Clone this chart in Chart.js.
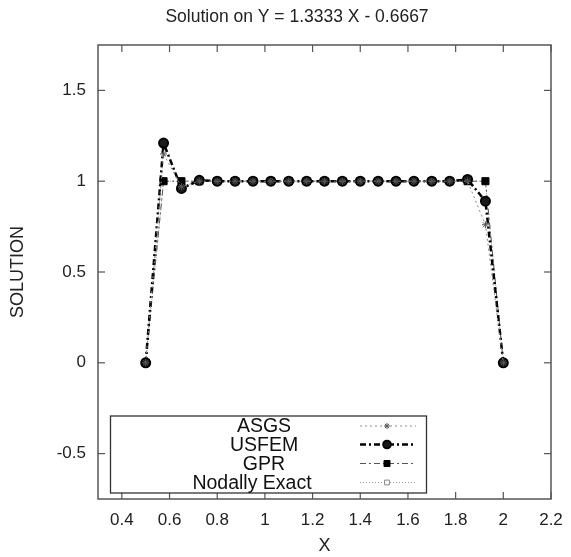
<!DOCTYPE html>
<html>
<head>
<meta charset="utf-8">
<script src="https://cdn.jsdelivr.net/npm/chart.js@4/dist/chart.umd.min.js"></script>
<style>
  html, body { margin: 0; padding: 0; background: #fff; }
  #wrap { width: 571px; height: 557px; }
</style>
</head>
<body>
<div id="wrap"><canvas id="chart"></canvas></div>
<script>
// datos
const xNodes = [0.5, 0.575, 0.65, 0.725, 0.8, 0.875, 0.95, 1.025, 1.1, 1.175, 1.25, 1.325,
                1.4, 1.475, 1.55, 1.625, 1.7, 1.775, 1.85, 1.925, 2.0];
const asgs   = [0, 1.15, 0.97, 1, 1, 1, 1, 1, 1, 1, 1, 1, 1, 1, 1, 1, 1, 1, 1.0, 0.76, 0];
const usfem  = [0, 1.21, 0.96, 1.005, 1, 1, 1, 1, 1, 1, 1, 1, 1, 1, 1, 1, 1, 1, 1.01, 0.89, 0];
const gpr    = [0, 1, 1, 1, 1, 1, 1, 1, 1, 1, 1, 1, 1, 1, 1, 1, 1, 1, 1, 1, 0];
const exact  = [0, 1, 1, 1, 1, 1, 1, 1, 1, 1, 1, 1, 1, 1, 1, 1, 1, 1, 1, 1, 0];
const seriesNames = ['ASGS', 'USFEM', 'GPR', 'Nodally Exact'];
const xTicks = [0.4, 0.6, 0.8, 1.0, 1.2, 1.4, 1.6, 1.8, 2.0, 2.2];
const yTicks = [-0.5, 0, 0.5, 1, 1.5];

const FONT = '"Liberation Sans", Arial, sans-serif';
const toPoints = vals => vals.map((v, i) => ({ x: xNodes[i], y: v }));

const fmt = v => {
    const r = Math.round(v * 10) / 10;
    return Number.isInteger(r) ? String(r) : r.toFixed(1);
};

const datasets = [
    {
        label: seriesNames[0], data: toPoints(asgs),
        borderColor: '#888', borderWidth: 1, borderDash: [2, 3],
        pointStyle: 'star', pointRadius: 3.5, pointBorderColor: '#555', pointBorderWidth: 1,
        pointBackgroundColor: '#555'
    },
    {
        label: seriesNames[1], data: toPoints(usfem),
        borderColor: '#000', borderWidth: 2.5, borderDash: [6, 3, 2, 3],
        pointStyle: 'circle', pointRadius: 4.6, pointBorderColor: '#000', pointBorderWidth: 1.8,
        pointBackgroundColor: '#1a1a1a'
    },
    {
        label: seriesNames[2], data: toPoints(gpr),
        borderColor: '#555', borderWidth: 1, borderDash: [6, 3, 2, 3],
        pointStyle: 'rect', pointRadius: 5, pointBorderColor: '#000', pointBorderWidth: 1,
        pointBackgroundColor: '#000'
    },
    {
        label: seriesNames[3], data: toPoints(exact),
        borderColor: '#999', borderWidth: 1, borderDash: [1, 2],
        pointStyle: 'rect', pointRadius: 4, pointBorderColor: '#888', pointBorderWidth: 1,
        pointBackgroundColor: '#fff'
    }
];

// Marco, marcas interiores, titulo y leyenda al estilo gnuplot
const gnuplotDeco = {
    id: 'gnuplotDeco',
    afterDraw(chart) {
        const { ctx, chartArea: a, scales: { x, y } } = chart;
        ctx.save();
        ctx.strokeStyle = '#555';
        ctx.lineWidth = 1.5;
        ctx.setLineDash([]);
        ctx.strokeRect(a.left, a.top, a.right - a.left, a.bottom - a.top);

        const seg = (x1, y1, x2, y2) => {
            ctx.beginPath(); ctx.moveTo(x1, y1); ctx.lineTo(x2, y2); ctx.stroke();
        };
        ctx.lineWidth = 1.2;
        xTicks.forEach(v => {
            const px = x.getPixelForValue(v);
            seg(px, a.bottom, px, a.bottom - 7);
            seg(px, a.top, px, a.top + 7);
        });
        yTicks.forEach(v => {
            const py = y.getPixelForValue(v);
            seg(a.left, py, a.left + 7, py);
            seg(a.right, py, a.right - 7, py);
        });

        // titulo
        ctx.fillStyle = '#222';
        ctx.font = '17.5px ' + FONT;
        ctx.textAlign = 'center';
        ctx.textBaseline = 'middle';
        ctx.fillText('Solution on Y = 1.3333 X - 0.6667', 297, 17);

        // leyenda
        const bx = a.left + 12.5, by = a.top + 371, bw = 316, bh = 77;
        ctx.fillStyle = '#fff';
        ctx.fillRect(bx, by, bw, bh);
        ctx.strokeStyle = '#333';
        ctx.lineWidth = 1.3;
        ctx.strokeRect(bx, by, bw, bh);

        ctx.font = '19.5px ' + FONT;
        const rows = [426, 444.5, 463.5, 482.5];
        chart.data.datasets.forEach((ds, i) => {
            const ry = rows[i];
            ctx.fillStyle = '#111';
            ctx.textAlign = 'center';
            ctx.fillText(ds.label, i === 3 ? 252 : 264, ry + 1);
            ctx.strokeStyle = ds.borderColor;
            ctx.lineWidth = ds.borderWidth;
            ctx.setLineDash(ds.borderDash);
            seg(360, ry, 416, ry);
            ctx.setLineDash([]);
            ctx.fillStyle = ds.pointBackgroundColor;
            ctx.strokeStyle = ds.pointBorderColor;
            ctx.lineWidth = ds.pointBorderWidth;
            Chart.helpers.drawPoint(ctx, {
                pointStyle: ds.pointStyle, radius: ds.pointRadius * 0.85, rotation: 0,
                borderWidth: ds.pointBorderWidth
            }, 387, ry);
        });
        ctx.restore();
    }
};

new Chart(document.getElementById('chart'), {
    type: 'line',
    data: { datasets: datasets },
    options: {
        responsive: true,
        maintainAspectRatio: false,
        animation: false,
        layout: { padding: { top: 45, right: 20, left: 0, bottom: 0 } },
        plugins: {
            legend: { display: false },
            title: { display: false },
            tooltip: { enabled: false }
        },
        scales: {
            x: {
                type: 'linear', min: 0.3, max: 2.2,
                afterBuildTicks: s => { s.ticks = xTicks.map(v => ({ value: v })); },
                afterFit: s => { s.height = 58; s.paddingLeft = 0; s.paddingRight = 0; },
                grid: { display: false, drawTicks: false },
                border: { display: false },
                ticks: { padding: 11, color: '#222', font: { family: FONT, size: 17 }, callback: v => fmt(v), maxRotation: 0 },
                title: { display: true, text: 'X', color: '#222', font: { family: FONT, size: 18 }, padding: { top: 0, bottom: 0 } }
            },
            y: {
                min: -0.75, max: 1.75,
                afterBuildTicks: s => { s.ticks = yTicks.map(v => ({ value: v })); },
                afterFit: s => { s.width = 98; s.paddingTop = 0; s.paddingBottom = 0; },
                grid: { display: false, drawTicks: false },
                border: { display: false },
                ticks: { padding: 12, color: '#222', font: { family: FONT, size: 17 }, callback: v => fmt(v) },
                title: { display: true, text: 'SOLUTION', color: '#222', font: { family: FONT, size: 18 }, padding: { top: 7, bottom: 0 } }
            }
        }
    },
    plugins: [gnuplotDeco]
});
</script>
</body>
</html>
